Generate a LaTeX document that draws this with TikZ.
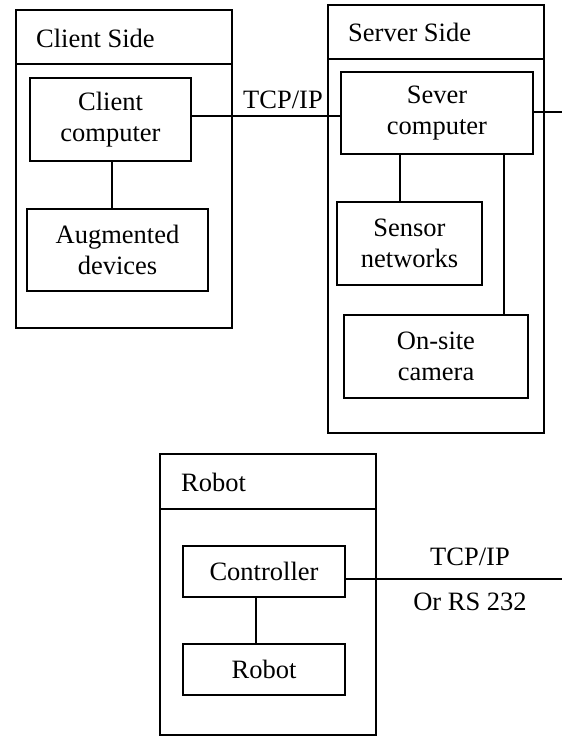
\documentclass[tikz,border=0pt]{standalone}
\usepackage{fontspec}
\setmainfont{Liberation Serif}
\begin{document}
\begin{tikzpicture}[x=1pt,y=-1pt,
  every node/.style={font=\fontsize{26.5}{31}\selectfont},
  line/.style={line width=1.5pt},
  group/.style={draw,line width=1.5pt,minimum width=216pt,inner sep=0pt},
  box/.style={draw,line width=1.5pt,align=center,inner sep=0pt},
  lbl/.style={inner sep=0pt,anchor=west}]
\useasboundingbox (0,0) rectangle (562,736);
% containers
\node[group,minimum height=318pt] (client) at (124,169) {};
\node[group,minimum height=428pt] (server) at (436,219) {};
\node[group,minimum height=281pt] (robotg) at (268,594.5) {};
\draw[line] (client.west |- 0,64) -- (client.east |- 0,64);
\draw[line] (server.west |- 0,59) -- (server.east |- 0,59);
\draw[line] (robotg.west |- 0,509) -- (robotg.east |- 0,509);
\node[lbl] (clientt) at (36,38) {Client Side};
\node[lbl] (servert) at (348,32) {Server Side};
\node[lbl] (robott) at (181,482) {Robot};
% inner boxes
\node[box,minimum width=161pt,minimum height=83pt] (cc) at (110.5,119.5) {Client\\computer};
\node[box,minimum width=181pt,minimum height=82pt] (aug) at (117.5,250) {Augmented\\devices};
\node[box,minimum width=192pt,minimum height=82pt] (sc) at (437,113) {Sever\\computer};
\node[box,minimum width=145pt,minimum height=83pt] (sn) at (409.5,243.5) {Sensor\\networks};
\node[box,minimum width=184pt,minimum height=83pt] (cam) at (436,356.5) {On-site\\camera};
\node[box,minimum width=162pt,minimum height=51pt] (ctrl) at (264,571.5) {Controller};
\node[box,minimum width=162pt,minimum height=51pt] (rb) at (264,669.5) {Robot};
% connectors
\coordinate (srvout) at (562,112);
\coordinate (ctrlout) at (562,579);
\draw[line] (cc.south -| 112,0) -- (aug.north -| 112,0);
\draw[line] (cc.east |- 0,116) -- (sc.west |- 0,116);
\draw[line] (sc.east |- srvout) -- (srvout);
\draw[line] (sc.south -| 400,0) -- (sn.north -| 400,0);
\draw[line] (sc.south -| 504,0) -- (cam.north -| 504,0);
\draw[line] (ctrl.south -| 256,0) -- (rb.north -| 256,0);
\draw[line] (ctrl.east |- ctrlout) -- (ctrlout);
% link labels
\node[inner sep=0pt] (tcp1) at (283,100) {TCP/IP};
\node[inner sep=0pt] (tcp2) at (470,557) {TCP/IP};
\node[inner sep=0pt] (rs) at (470,602) {Or RS 232};
\end{tikzpicture}
\end{document}
